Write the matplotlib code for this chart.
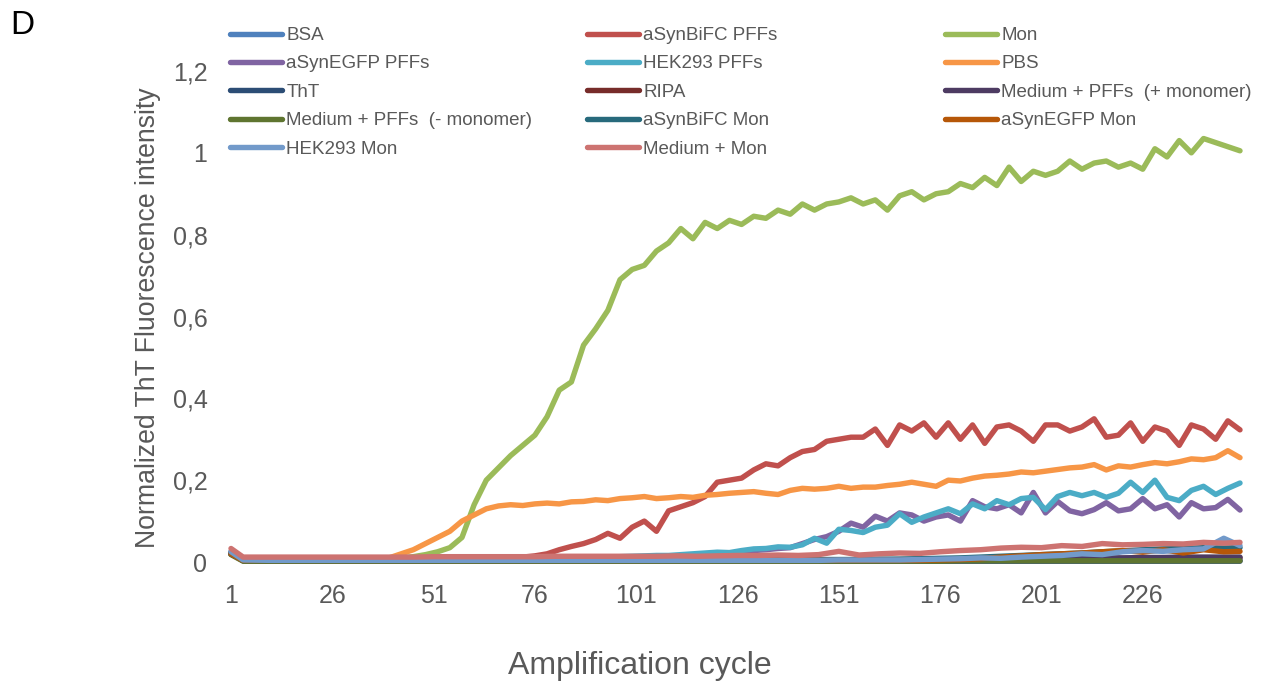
import matplotlib
matplotlib.use("Agg")
import matplotlib.pyplot as plt

plt.rcParams['font.family'] = ['Liberation Sans', 'DejaVu Sans']

# x positions (amplification cycle) for the rising traces and for the flat ones
cycles = list(range(1, 251, 3))
cycles_low = [1, 4] + list(range(11, 250, 5)) + [250]

mon = [0.020, 0.010, 0.008, 0.008, 0.008, 0.008, 0.008, 0.008, 0.008, 0.008, 0.008, 0.008,
       0.008, 0.009, 0.010, 0.013, 0.018, 0.025, 0.035, 0.060, 0.140, 0.200, 0.230, 0.260,
       0.285, 0.310, 0.355, 0.420, 0.440, 0.530, 0.570, 0.615, 0.690, 0.715, 0.725, 0.760,
       0.780, 0.815, 0.790, 0.830, 0.815, 0.835, 0.825, 0.845, 0.840, 0.860, 0.850, 0.875,
       0.860, 0.875, 0.880, 0.890, 0.875, 0.885, 0.860, 0.895, 0.905, 0.885, 0.900, 0.905,
       0.925, 0.915, 0.940, 0.920, 0.965, 0.930, 0.955, 0.945, 0.955, 0.980, 0.960, 0.975,
       0.980, 0.965, 0.975, 0.960, 1.010, 0.990, 1.030, 1.000, 1.035, 1.025, 1.015, 1.005]

bifc_pffs = [0.020, 0.008, 0.008, 0.008, 0.008, 0.008, 0.008, 0.008, 0.008, 0.008, 0.008, 0.008,
             0.008, 0.008, 0.008, 0.008, 0.008, 0.008, 0.008, 0.008, 0.008, 0.008, 0.009, 0.010,
             0.012, 0.015, 0.020, 0.030, 0.038, 0.045, 0.055, 0.070, 0.058, 0.085, 0.100, 0.075,
             0.125, 0.135, 0.145, 0.160, 0.195, 0.200, 0.205, 0.225, 0.240, 0.235, 0.255, 0.270,
             0.275, 0.295, 0.300, 0.305, 0.305, 0.325, 0.285, 0.335, 0.320, 0.340, 0.305, 0.340,
             0.300, 0.335, 0.290, 0.330, 0.335, 0.320, 0.295, 0.335, 0.335, 0.320, 0.330, 0.350,
             0.305, 0.310, 0.340, 0.295, 0.330, 0.320, 0.285, 0.335, 0.325, 0.300, 0.345, 0.323]

pbs = [0.020, 0.006, 0.006, 0.006, 0.006, 0.006, 0.006, 0.006, 0.006, 0.006, 0.006, 0.006,
       0.007, 0.010, 0.020, 0.030, 0.045, 0.060, 0.075, 0.100, 0.115, 0.130, 0.137, 0.140,
       0.138, 0.142, 0.144, 0.142, 0.147, 0.148, 0.152, 0.150, 0.155, 0.157, 0.160, 0.155,
       0.157, 0.160, 0.158, 0.163, 0.165, 0.168, 0.170, 0.172, 0.168, 0.165, 0.175, 0.180,
       0.178, 0.180, 0.185, 0.180, 0.183, 0.183, 0.187, 0.190, 0.195, 0.190, 0.185, 0.200,
       0.198, 0.205, 0.210, 0.212, 0.215, 0.220, 0.218, 0.222, 0.226, 0.230, 0.232, 0.238,
       0.225, 0.235, 0.232, 0.238, 0.243, 0.240, 0.245, 0.252, 0.250, 0.255, 0.272, 0.255]

hek_pffs = [0.020, 0.006, 0.005, 0.005, 0.005, 0.005, 0.005, 0.005, 0.005, 0.005, 0.005, 0.005,
            0.005, 0.005, 0.005, 0.005, 0.005, 0.005, 0.005, 0.005, 0.007, 0.007, 0.007, 0.007,
            0.007, 0.007, 0.008, 0.009, 0.010, 0.011, 0.012, 0.012, 0.013, 0.014, 0.015, 0.016,
            0.016, 0.018, 0.020, 0.022, 0.024, 0.023, 0.028, 0.032, 0.033, 0.037, 0.036, 0.042,
            0.058, 0.046, 0.080, 0.077, 0.072, 0.085, 0.090, 0.118, 0.097, 0.110, 0.120, 0.130,
            0.118, 0.142, 0.130, 0.150, 0.140, 0.155, 0.158, 0.128, 0.160, 0.170, 0.162, 0.170,
            0.158, 0.168, 0.195, 0.170, 0.200, 0.158, 0.150, 0.175, 0.185, 0.165, 0.180, 0.193]

egfp_pffs = [0.020, 0.005, 0.004, 0.004, 0.004, 0.004, 0.004, 0.004, 0.004, 0.004, 0.004, 0.004,
             0.004, 0.004, 0.004, 0.004, 0.004, 0.004, 0.004, 0.004, 0.004, 0.004, 0.004, 0.004,
             0.005, 0.005, 0.006, 0.006, 0.007, 0.008, 0.008, 0.009, 0.010, 0.010, 0.011, 0.012,
             0.013, 0.014, 0.016, 0.018, 0.020, 0.021, 0.024, 0.028, 0.030, 0.033, 0.035, 0.045,
             0.055, 0.062, 0.075, 0.095, 0.085, 0.112, 0.100, 0.120, 0.115, 0.100, 0.110, 0.115,
             0.100, 0.150, 0.135, 0.130, 0.140, 0.120, 0.170, 0.120, 0.148, 0.125, 0.118, 0.128,
             0.145, 0.125, 0.130, 0.155, 0.130, 0.140, 0.110, 0.145, 0.130, 0.133, 0.153, 0.127]

bsa = [0.022, 0.004, 0.003, 0.003, 0.003, 0.003, 0.003, 0.003, 0.003, 0.003,
       0.003, 0.003, 0.003, 0.003, 0.003, 0.003, 0.003, 0.003, 0.003, 0.003,
       0.003, 0.003, 0.003, 0.003, 0.003, 0.003, 0.003, 0.003, 0.003, 0.003,
       0.003, 0.003, 0.003, 0.004, 0.004, 0.004, 0.004, 0.004, 0.004, 0.004,
       0.004, 0.004, 0.005, 0.005, 0.005, 0.005, 0.005, 0.005, 0.005, 0.005, 0.005]

tht = [0.025, 0.003, 0.002, 0.002, 0.002, 0.002, 0.002, 0.002, 0.002, 0.002,
       0.002, 0.002, 0.002, 0.002, 0.002, 0.002, 0.002, 0.002, 0.002, 0.002,
       0.002, 0.002, 0.002, 0.002, 0.002, 0.002, 0.002, 0.002, 0.002, 0.002,
       0.002, 0.002, 0.002, 0.002, 0.002, 0.002, 0.002, 0.002, 0.002, 0.002,
       0.002, 0.002, 0.002, 0.002, 0.002, 0.002, 0.002, 0.002, 0.002, 0.002, 0.002]

ripa = [0.020, 0.004, 0.004, 0.004, 0.004, 0.004, 0.004, 0.004, 0.004, 0.004,
        0.004, 0.004, 0.004, 0.004, 0.004, 0.004, 0.004, 0.004, 0.004, 0.004,
        0.004, 0.004, 0.004, 0.004, 0.004, 0.005, 0.005, 0.005, 0.005, 0.005,
        0.005, 0.005, 0.005, 0.006, 0.006, 0.006, 0.006, 0.007, 0.007, 0.007,
        0.008, 0.008, 0.008, 0.009, 0.009, 0.009, 0.010, 0.010, 0.010, 0.010, 0.010]

med_pffs_plus = [0.020, 0.003, 0.003, 0.003, 0.003, 0.003, 0.003, 0.003, 0.003, 0.003,
                 0.003, 0.003, 0.003, 0.003, 0.003, 0.003, 0.003, 0.003, 0.003, 0.003,
                 0.003, 0.003, 0.003, 0.004, 0.004, 0.004, 0.004, 0.004, 0.004, 0.005,
                 0.005, 0.005, 0.005, 0.005, 0.006, 0.006, 0.006, 0.007, 0.007, 0.008,
                 0.008, 0.009, 0.009, 0.010, 0.010, 0.011, 0.011, 0.012, 0.012, 0.012, 0.012]

med_pffs_minus = [0.018, 0.002, 0.002, 0.002, 0.002, 0.002, 0.002, 0.002, 0.002, 0.002,
                  0.002, 0.002, 0.002, 0.002, 0.002, 0.002, 0.002, 0.002, 0.002, 0.002,
                  0.002, 0.002, 0.002, 0.002, 0.002, 0.002, 0.002, 0.002, 0.002, 0.002,
                  0.002, 0.002, 0.002, 0.002, 0.002, 0.002, 0.003, 0.003, 0.003, 0.003,
                  0.003, 0.003, 0.003, 0.003, 0.003, 0.003, 0.003, 0.003, 0.003, 0.003, 0.003]

bifc_mon = [0.020, 0.005, 0.005, 0.005, 0.005, 0.005, 0.005, 0.005, 0.005, 0.005,
            0.005, 0.005, 0.005, 0.005, 0.005, 0.005, 0.005, 0.005, 0.005, 0.005,
            0.005, 0.005, 0.005, 0.005, 0.005, 0.005, 0.005, 0.005, 0.005, 0.006,
            0.006, 0.006, 0.007, 0.007, 0.008, 0.009, 0.010, 0.012, 0.014, 0.016,
            0.018, 0.020, 0.022, 0.025, 0.027, 0.030, 0.032, 0.033, 0.035, 0.034, 0.035]

egfp_mon = [0.020, 0.004, 0.004, 0.004, 0.004, 0.004, 0.004, 0.004, 0.004, 0.004,
            0.004, 0.004, 0.004, 0.004, 0.004, 0.004, 0.004, 0.004, 0.004, 0.004,
            0.004, 0.004, 0.004, 0.004, 0.004, 0.004, 0.004, 0.004, 0.004, 0.004,
            0.004, 0.004, 0.004, 0.004, 0.004, 0.005, 0.006, 0.008, 0.012, 0.015,
            0.018, 0.020, 0.022, 0.025, 0.028, 0.024, 0.030, 0.022, 0.030, 0.025, 0.026]

hek_mon = [0.025, 0.005, 0.004, 0.004, 0.004, 0.004, 0.004, 0.004, 0.004, 0.004,
           0.004, 0.004, 0.004, 0.004, 0.004, 0.004, 0.004, 0.004, 0.004, 0.004,
           0.004, 0.004, 0.004, 0.004, 0.004, 0.004, 0.004, 0.004, 0.004, 0.004,
           0.005, 0.005, 0.005, 0.005, 0.006, 0.007, 0.008, 0.010, 0.009, 0.012,
           0.014, 0.016, 0.020, 0.018, 0.025, 0.028, 0.026, 0.030, 0.032, 0.058, 0.040]

med_mon = [0.033, 0.012, 0.012, 0.012, 0.012, 0.012, 0.012, 0.012, 0.012, 0.012,
           0.013, 0.013, 0.013, 0.013, 0.013, 0.013, 0.014, 0.014, 0.014, 0.014,
           0.014, 0.014, 0.015, 0.014, 0.015, 0.016, 0.016, 0.017, 0.016, 0.018,
           0.026, 0.017, 0.020, 0.022, 0.021, 0.025, 0.028, 0.030, 0.034, 0.036,
           0.035, 0.040, 0.038, 0.045, 0.042, 0.043, 0.045, 0.044, 0.048, 0.046, 0.048]

# drawing order as in the source workbook (later series on top)
series = [
    ("BSA", cycles_low, bsa, "#4F81BD"),
    ("aSynBiFC PFFs", cycles, bifc_pffs, "#C0504D"),
    ("Mon", cycles, mon, "#9BBB59"),
    ("aSynEGFP PFFs", cycles, egfp_pffs, "#8064A2"),
    ("HEK293 PFFs", cycles, hek_pffs, "#4BACC6"),
    ("PBS", cycles, pbs, "#F79646"),
    ("ThT", cycles_low, tht, "#2C4D75"),
    ("RIPA", cycles_low, ripa, "#772C2A"),
    ("Medium + PFFs  (+ monomer)", cycles_low, med_pffs_plus, "#4D3B62"),
    ("Medium + PFFs  (- monomer)", cycles_low, med_pffs_minus, "#5F7530"),
    ("aSynBiFC Mon", cycles_low, bifc_mon, "#276A7C"),
    ("aSynEGFP Mon", cycles_low, egfp_mon, "#B65708"),
    ("HEK293 Mon", cycles_low, hek_mon, "#729ACA"),
    ("Medium + Mon", cycles_low, med_mon, "#CD7371"),
]

W, H = 1262, 684
fig = plt.figure(figsize=(W / 100, H / 100), dpi=100)
ax = fig.add_axes([231 / W, 1 - 562 / H, 1009 / W, 491 / H])

handles = {}
for label, x, y, color in series:
    line, = ax.plot(x, y, color=color, lw=3.9, solid_joinstyle='round',
                    solid_capstyle='round', clip_on=False, label=label)
    handles[label] = line

ax.set_xlim(1, 250)
ax.set_ylim(0, 1.2)
ax.set_xticks(list(range(1, 227, 25)))
yt = [0, 0.2, 0.4, 0.6, 0.8, 1.0, 1.2]
ax.set_yticks(yt)
ax.set_yticklabels([f"{v:g}".replace(".", ",") for v in yt])
ax.tick_params(axis='both', length=0, labelsize=18, labelcolor='#595959')
ax.tick_params(axis='y', pad=17)
ax.tick_params(axis='x', pad=16)
for s in ax.spines.values():
    s.set_visible(False)

fig.text(148 / W, 1 - 318 / H, "Normalized ThT Fluorescence intensity", rotation=90,
         ha='center', va='center', fontsize=19.2, color='#595959')
fig.text(640 / W, 1 - 666 / H, "Amplification cycle", ha='center', va='center',
         fontsize=23, color='#595959')
fig.text(10 / W, 1 - 25 / H, "D", ha='left', va='center', fontsize=24, color='black')

# legend: three columns, laid out like the Excel legend
columns = [
    (230, ["BSA", "aSynEGFP PFFs", "ThT", "Medium + PFFs  (- monomer)", "HEK293 Mon"]),
    (587, ["aSynBiFC PFFs", "HEK293 PFFs", "RIPA", "aSynBiFC Mon", "Medium + Mon"]),
    (945, ["Mon", "PBS", "Medium + PFFs  (+ monomer)", "aSynEGFP Mon"]),
]
for xpix, labels in columns:
    leg = fig.legend([handles[l] for l in labels], labels, loc='upper left',
                     bbox_to_anchor=(xpix / W, 1 - 27 / H), frameon=False,
                     borderpad=0, borderaxespad=0, handlelength=2.75,
                     handletextpad=0.25, labelspacing=0.6, fontsize=13.5)
    for t in leg.get_texts():
        t.set_color('#595959')

fig.savefig("out.png", dpi=100)
